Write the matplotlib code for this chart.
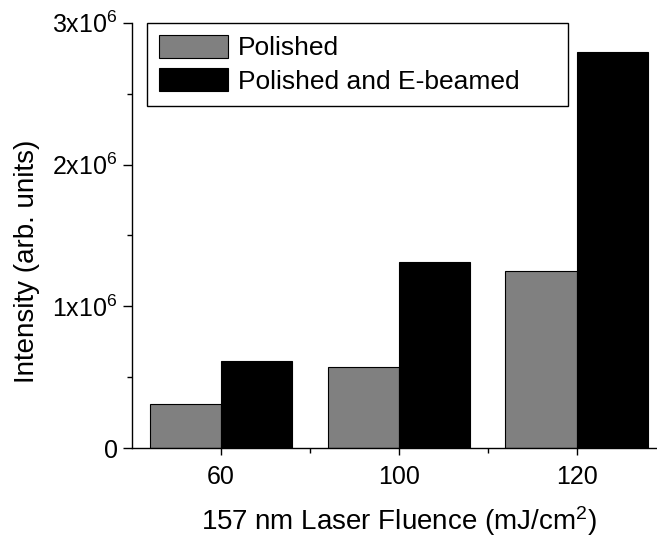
import matplotlib
matplotlib.use('Agg')
import matplotlib.pyplot as plt
import numpy as np

# Data
fluences = ['60', '100', '120']
polished = [0.312e6, 0.575e6, 1.247e6]
ebeamed = [0.617e6, 1.31e6, 2.796e6]
ytick_vals = [0, 1e6, 2e6, 3e6]
ytick_labels = ['0', r'1x10$^6$', r'2x10$^6$', r'3x10$^6$']

plt.rcParams['font.family'] = 'Liberation Sans'
plt.rcParams['mathtext.fontset'] = 'custom'
plt.rcParams['mathtext.rm'] = 'Liberation Sans'
plt.rcParams['mathtext.it'] = 'Liberation Sans:italic'

fig = plt.figure(figsize=(6.57, 5.41), dpi=100)
ax = fig.add_axes([0.2014, 0.1714, 0.8114, 0.7866])

x = np.arange(len(fluences))
width = 0.4
ax.bar(x - width / 2, polished, width, color='#808080', edgecolor='black',
       linewidth=0.8, label='Polished')
ax.bar(x + width / 2, ebeamed, width, color='black', edgecolor='black',
       linewidth=0.8, label='Polished and E-beamed')

ax.set_xlim(-0.5, 2.5)
ax.set_ylim(0, 3e6)
ax.set_xticks(x)
ax.set_xticklabels(fluences)
ax.set_xticks([0.5, 1.5], minor=True)
ax.set_yticks(ytick_vals)
ax.set_yticklabels(ytick_labels)
ax.set_yticks([0.5e6, 1.5e6, 2.5e6], minor=True)

for side in ['top', 'right']:
    ax.spines[side].set_visible(False)
for side in ['left', 'bottom']:
    ax.spines[side].set_linewidth(1.0)

ax.tick_params(axis='both', which='both', direction='out', width=1.0,
               labelsize=18)
ax.tick_params(axis='x', which='major', length=5, pad=7)
ax.tick_params(axis='x', which='minor', length=3.5)
ax.tick_params(axis='y', which='major', length=6.5, pad=4)
ax.tick_params(axis='y', which='minor', length=3.5)

ax.set_xlabel('157 nm Laser Fluence (mJ/cm$^2$)', fontsize=20, labelpad=11)
ax.set_ylabel('Intensity (arb. units)', fontsize=20)
ax.yaxis.set_label_coords(-0.173, 0.44)

leg = ax.legend(loc='upper left', bbox_to_anchor=(0.0276, 0.0, 0.7897, 1.0),
                mode='expand', fontsize=19, fancybox=False,
                edgecolor='black', framealpha=1, borderpad=0.45,
                handlelength=2.6, handleheight=1.0, handletextpad=0.38,
                labelspacing=0.28, borderaxespad=0)
leg.get_frame().set_linewidth(1.0)

fig.savefig('out.png', dpi=100)
